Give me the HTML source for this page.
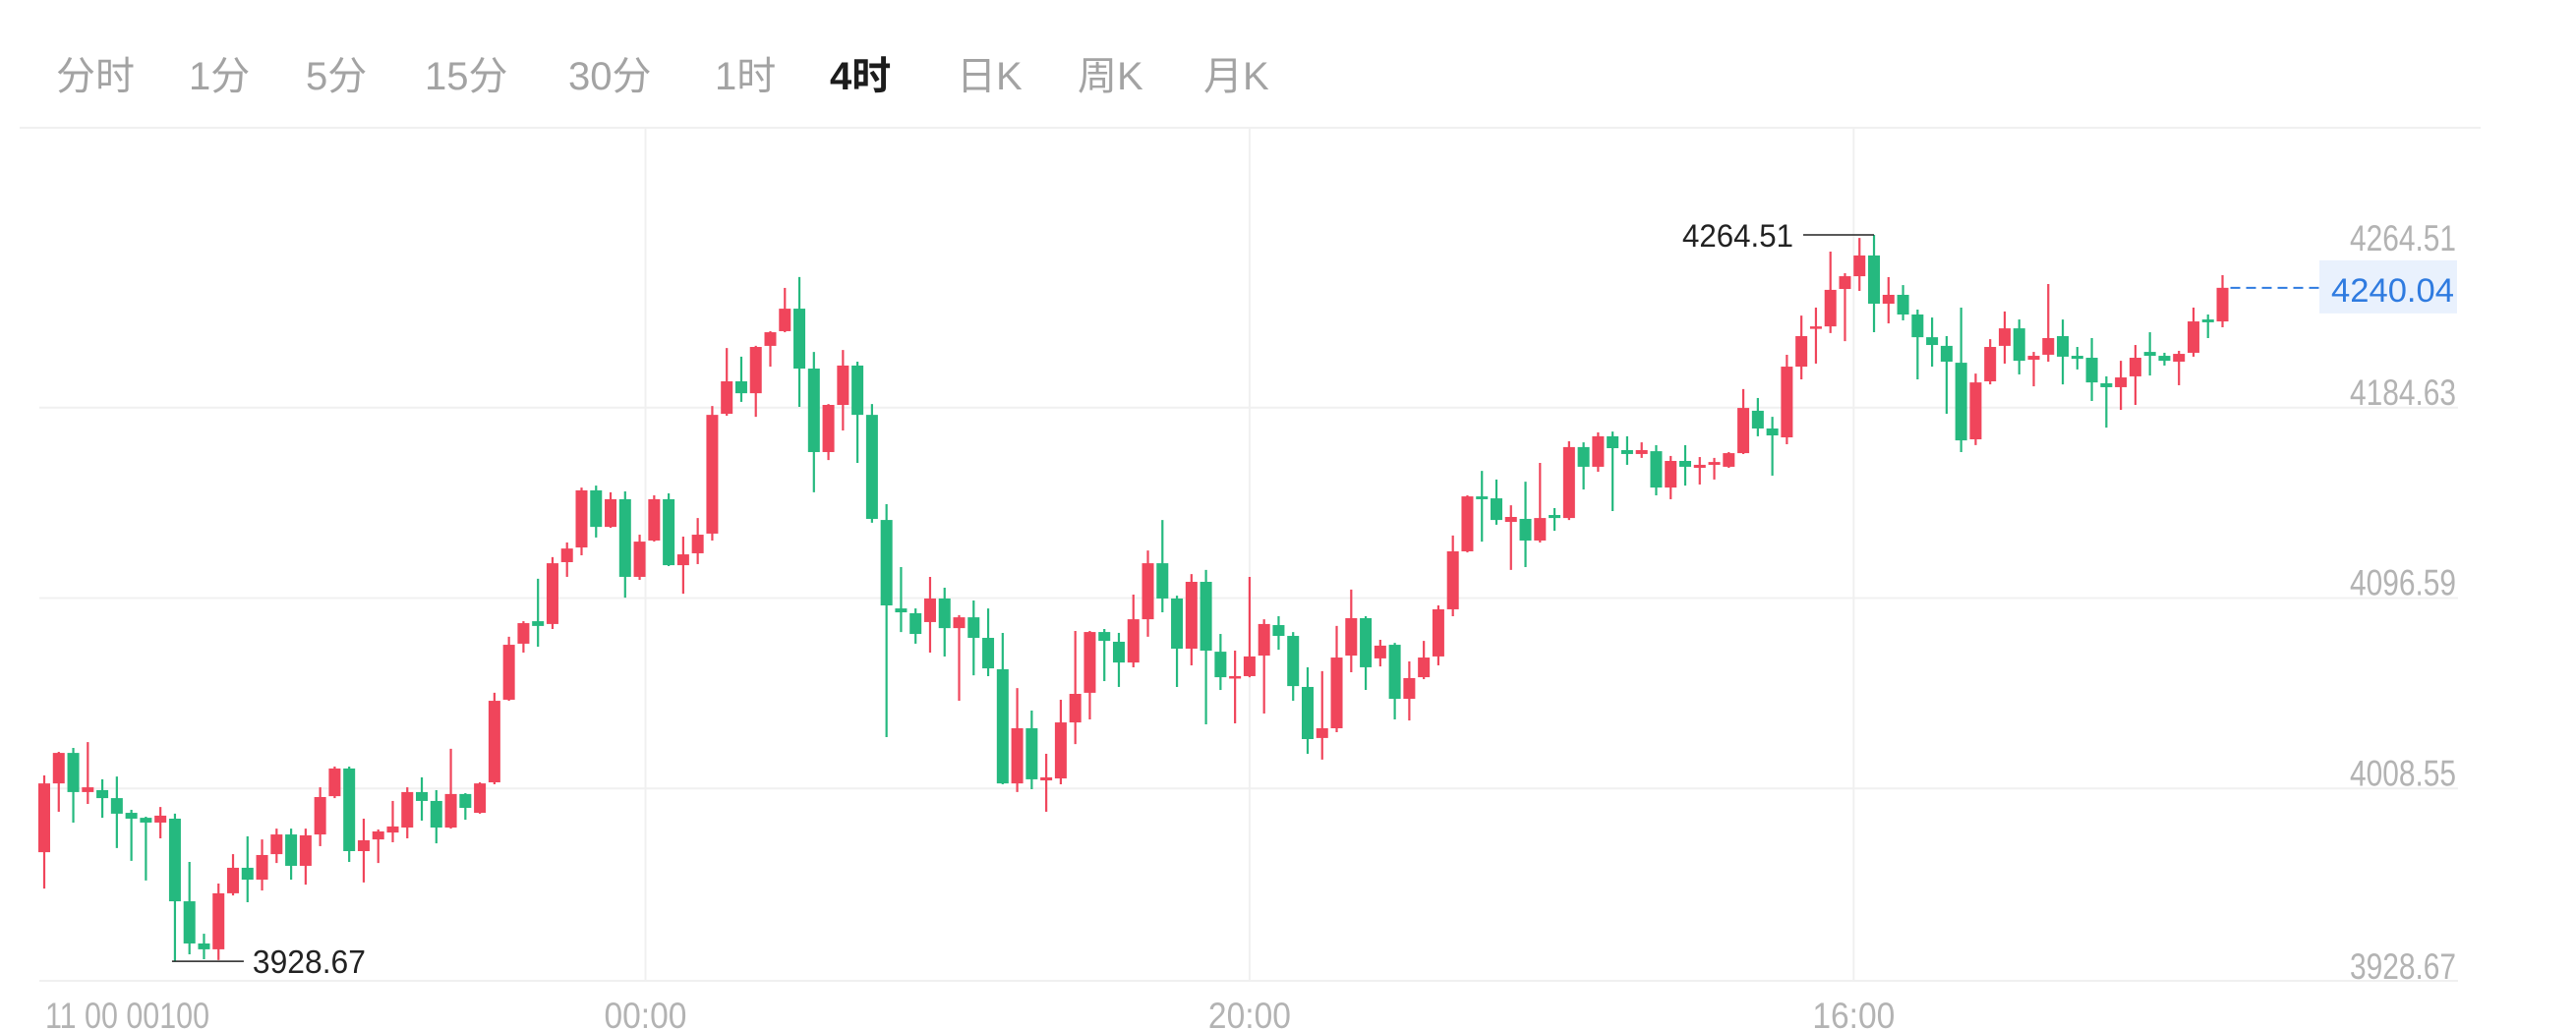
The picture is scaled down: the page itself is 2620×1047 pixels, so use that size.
<!DOCTYPE html>
<html><head><meta charset="utf-8"><style>
html,body{margin:0;padding:0;background:#fff;}
svg{display:block;}
text{font-family:"Liberation Sans","Noto Sans CJK SC",sans-serif;}
</style></head><body>
<svg id="chart" width="2620" height="1047" viewBox="0 0 2620 1047" xmlns="http://www.w3.org/2000/svg">
<g font-size="40" fill="#a3a3a3">
<text x="57" y="91">分时</text>
<text x="192" y="91">1分</text>
<text x="311" y="91">5分</text>
<text x="432" y="91">15分</text>
<text x="578" y="91">30分</text>
<text x="727" y="91">1时</text>
<text x="844" y="91" fill="#1c1c1c" font-weight="bold">4时</text>
<text x="973" y="91">日K</text>
<text x="1096" y="91">周K</text>
<text x="1224" y="91">月K</text>
</g>
<line x1="20" y1="130" x2="2523" y2="130" stroke="#f0f0f0" stroke-width="2"/>
<g id="grid"></g>
<g id="candles"></g>
<g id="labels"></g>
</svg>
<script>
const opens=[3979.1,4010.9,4025.0,4006.9,4007.8,4004.1,3997.3,3995.0,3992.8,3994.6,3956.4,3936.9,3934.2,3960.1,3971.9,3966.4,3978.2,3987.3,3972.8,3987.3,4005.0,4017.8,3979.6,3985.0,3988.2,3990.5,4006.9,4002.8,3990.5,4006.0,3997.3,4011.4,4049.6,4075.5,4085.9,4084.6,4113.2,4120.0,4146.4,4129.5,4142.3,4106.4,4123.2,4142.3,4111.8,4117.3,4126.4,4181.8,4196.8,4191.3,4213.2,4220.0,4230.4,4202.7,4164.1,4185.9,4204.1,4181.3,4132.7,4091.8,4089.6,4085.5,4096.4,4082.7,4087.7,4078.2,4063.7,4010.9,4036.4,4012.3,4013.2,4039.1,4052.8,4080.9,4076.4,4066.8,4086.8,4112.7,4096.4,4073.2,4104.1,4071.8,4059.6,4060.5,4070.0,4084.1,4079.1,4055.5,4031.9,4036.4,4070.0,4087.3,4068.7,4075.0,4050.0,4060.0,4069.6,4091.4,4118.2,4143.6,4142.7,4131.8,4133.2,4123.2,4135.0,4133.6,4166.4,4157.3,4171.4,4165.0,4163.2,4164.5,4147.7,4160.0,4156.8,4158.2,4157.3,4163.6,4183.2,4175.0,4170.9,4203.6,4221.3,4222.2,4239.5,4245.4,4255.0,4232.7,4236.8,4227.7,4217.2,4213.2,4205.4,4170.0,4196.8,4213.2,4221.3,4206.8,4209.1,4217.7,4208.6,4207.7,4195.9,4194.1,4199.1,4210.4,4208.6,4205.9,4210.0,4225.4,4224.5];
const highs=[4014.6,4025.5,4027.3,4030.0,4012.8,4014.1,3998.7,3995.5,4000.0,3996.9,3974.6,3941.4,3964.6,3978.2,3986.4,3985.0,3990.0,3990.0,3990.0,4009.1,4018.7,4018.7,3994.6,3989.6,4002.8,4009.1,4013.7,4007.8,4026.9,4006.4,4011.4,4052.8,4078.7,4085.9,4105.5,4115.5,4122.3,4147.7,4148.6,4145.5,4145.9,4125.9,4144.1,4145.0,4125.0,4133.6,4185.4,4212.2,4208.2,4213.2,4220.0,4240.0,4245.0,4210.4,4186.3,4211.3,4205.9,4186.3,4140.0,4110.9,4091.8,4106.4,4101.4,4088.7,4095.5,4091.8,4080.5,4055.0,4044.6,4024.6,4049.6,4081.4,4081.4,4082.3,4080.5,4098.2,4118.6,4132.7,4097.7,4107.7,4109.6,4080.0,4072.3,4106.4,4086.8,4088.2,4080.9,4064.6,4062.8,4083.7,4100.5,4088.2,4077.3,4075.9,4067.3,4076.8,4093.2,4125.5,4144.1,4155.4,4151.4,4139.5,4150.4,4159.1,4138.2,4169.1,4168.6,4173.2,4173.6,4171.4,4168.6,4167.3,4162.3,4167.3,4161.8,4161.4,4164.1,4193.2,4189.1,4180.4,4209.1,4227.2,4230.9,4256.8,4246.8,4263.1,4264.51,4245.0,4241.3,4230.0,4226.3,4217.7,4230.9,4200.4,4216.3,4229.1,4225.4,4210.4,4241.8,4225.4,4212.7,4216.8,4199.1,4206.3,4213.6,4219.5,4210.0,4210.9,4230.9,4227.7,4245.9];
const lows=[3962.3,3997.8,3992.8,4001.4,3995.0,3981.0,3975.1,3966.0,3985.5,3928.67,3931.9,3929.6,3929.2,3959.1,3956.0,3961.4,3974.1,3966.4,3964.1,3981.9,4004.1,3974.6,3965.1,3974.1,3983.7,3985.5,3993.7,3983.2,3990.0,3994.1,3996.9,4010.5,4049.1,4071.4,4074.1,4082.3,4106.4,4116.4,4124.6,4129.1,4096.8,4105.0,4122.7,4111.4,4098.6,4112.3,4123.2,4180.9,4187.3,4180.4,4203.6,4219.5,4185.0,4145.5,4160.4,4174.1,4159.1,4131.4,4032.3,4080.9,4075.5,4071.4,4069.6,4049.1,4060.9,4060.5,4010.5,4006.9,4008.2,3997.8,4010.5,4029.1,4040.5,4058.2,4055.5,4064.6,4078.7,4090.0,4055.5,4065.5,4038.2,4054.1,4038.7,4060.0,4043.2,4072.7,4049.1,4024.6,4021.9,4034.6,4062.3,4054.1,4065.0,4040.5,4040.0,4059.1,4065.5,4088.2,4117.7,4122.7,4130.5,4109.6,4110.9,4122.3,4127.7,4132.7,4146.8,4155.0,4136.8,4158.2,4161.4,4144.1,4142.3,4148.6,4149.1,4151.4,4156.8,4163.2,4171.4,4153.2,4167.7,4197.7,4205.0,4219.1,4215.4,4238.6,4219.5,4223.6,4225.0,4197.7,4203.6,4181.8,4164.1,4167.3,4195.4,4205.0,4200.0,4194.5,4205.9,4195.4,4202.3,4187.7,4175.4,4183.6,4185.9,4199.5,4204.1,4195.0,4208.2,4216.8,4221.8];
const closes=[4010.9,4025.0,4006.9,4009.1,4004.1,3996.9,3994.6,3992.8,3996.0,3956.4,3936.9,3934.2,3960.1,3971.9,3966.4,3977.8,3987.3,3972.8,3986.9,4004.6,4017.8,3979.6,3984.6,3988.7,3991.0,4006.9,4002.8,3990.5,4006.0,3999.6,4010.9,4049.1,4075.0,4085.0,4083.7,4112.7,4119.5,4146.4,4129.5,4142.3,4106.4,4122.7,4142.3,4111.8,4116.8,4125.9,4181.3,4196.8,4191.3,4212.7,4219.5,4230.4,4202.7,4164.1,4185.9,4204.1,4181.3,4133.2,4093.2,4090.0,4080.0,4096.4,4082.7,4087.7,4078.2,4064.1,4010.9,4036.4,4012.8,4013.7,4039.1,4052.3,4080.9,4076.8,4066.8,4086.8,4112.7,4096.4,4073.2,4104.1,4072.3,4060.0,4060.5,4069.6,4084.6,4079.1,4055.9,4031.4,4036.4,4069.1,4087.3,4064.6,4074.6,4050.0,4059.6,4069.1,4091.4,4118.2,4143.6,4142.3,4132.7,4134.1,4123.2,4133.6,4133.6,4166.4,4157.3,4171.4,4165.9,4163.2,4165.0,4147.7,4160.0,4157.3,4158.2,4159.5,4163.6,4184.5,4175.0,4171.8,4203.6,4217.7,4222.2,4239.1,4245.4,4255.0,4232.7,4236.8,4227.7,4217.2,4213.6,4205.9,4169.5,4196.3,4212.7,4221.3,4206.3,4208.6,4216.8,4208.2,4207.2,4196.3,4194.1,4198.6,4207.7,4208.6,4206.3,4209.5,4224.5,4224.1,4240.04];
const gridPrices=[4184.63,4096.59,4008.55];
const priceLabels=["4264.51","4184.63","4096.59","4008.55","3928.67"];
const timeLabels=["11 00 00100","00:00","20:00","16:00"];
const timeIndex=[null,41.4,83,124.6];

const NS="http://www.w3.org/2000/svg";
const TOP=4264.51, PXU=2.2007;
function yS(p){return 239+(TOP-p)*PXU;}
function xS(i){return 45+i*14.77;}
function mk(tag,attrs,parent){const e=document.createElementNS(NS,tag);for(const k in attrs)e.setAttribute(k,attrs[k]);parent.appendChild(e);return e;}
const grid=document.getElementById('grid'),cg=document.getElementById('candles'),lg=document.getElementById('labels');
// horizontal gridlines
gridPrices.forEach(p=>{const l=mk('line',{x1:40,x2:2500,y1:yS(p),y2:yS(p),stroke:'#f0f0f0','stroke-width':2},grid);

});
const bl=mk('line',{x1:40,x2:2500,y1:998,y2:998,stroke:'#f0f0f0','stroke-width':2},grid);


timeIndex.forEach(t=>{if(t===null)return;const x=xS(t);const l=mk('line',{x1:x,x2:x,y1:131,y2:998,stroke:'#f0f0f0','stroke-width':2},grid);

});
// candles
for(let i=0;i<closes.length;i++){
 const o=opens[i],c=closes[i],h=highs[i],lo=lows[i];
 const up=c>=o, col=up?'#f0455b':'#25b97f';
 const x=xS(i);
 const g=mk('g',{},cg);
 
 
 mk('line',{x1:x,x2:x,y1:yS(h),y2:yS(lo),stroke:col,'stroke-width':2.2},g);
 const top=yS(Math.max(o,c)),bot=yS(Math.min(o,c));
 mk('rect',{x:x-6,y:top,width:12,height:Math.max(bot-top,2.5),fill:col},g);
}
// price axis labels
priceLabels.forEach((s,k)=>{let y;
 if(k===0)y=255;else if(k===priceLabels.length-1)y=996;else y=yS(gridPrices[k-1])-3;
 const t=mk('text',{x:2498,y:y,'text-anchor':'end','font-size':37,fill:'#b3b3b3',textLength:108,lengthAdjust:'spacingAndGlyphs'},lg);
 t.textContent=s;
 
 });
// time labels
timeLabels.forEach((s,k)=>{const t=mk('text',{'font-size':37,fill:'#b3b3b3',y:1046},lg);
 if(k===0){t.setAttribute('x',46);t.setAttribute('textLength',167);t.setAttribute('lengthAdjust','spacingAndGlyphs');}
 else{t.setAttribute('x',xS(timeIndex[k]));t.setAttribute('text-anchor','middle');t.setAttribute('textLength',84);t.setAttribute('lengthAdjust','spacingAndGlyphs');}
 t.textContent=s;
 
 });
// max / min markers
let hi=0,lw=0;for(let i=0;i<highs.length;i++){if(highs[i]>highs[hi])hi=i;if(lows[i]<lows[lw])lw=i;}
const mxY=yS(highs[hi]),mxX=xS(hi);
const ml=mk('line',{x1:mxX-72,x2:mxX,y1:mxY,y2:mxY,stroke:'#222','stroke-width':1.5},lg);


const mt=mk('text',{x:mxX-82,y:mxY+12,'text-anchor':'end','font-size':32,fill:'#222',textLength:113,lengthAdjust:'spacingAndGlyphs'},lg);
mt.textContent=highs[hi].toFixed(2);


const nY=yS(lows[lw]),nX=xS(lw);
const nl=mk('line',{x1:nX-3,x2:nX+70,y1:nY,y2:nY,stroke:'#222','stroke-width':1.5},lg);


const nt=mk('text',{x:nX+79,y:nY+12,'font-size':33,fill:'#222',textLength:115,lengthAdjust:'spacingAndGlyphs'},lg);
nt.textContent=lows[lw].toFixed(2);


// last price
const last=closes[closes.length-1],lY=yS(last),lX=xS(closes.length-1);
const dl=mk('line',{x1:lX+8,x2:2359,y1:lY,y2:lY,stroke:'#2f7be0','stroke-width':2,'stroke-dasharray':'10 6'},lg);


const br=mk('rect',{x:2359,y:lY-28,width:140,height:54,fill:'#e9f1fd'},lg);


const bt=mk('text',{x:2496,y:lY+14,'text-anchor':'end','font-size':34,fill:'#2f7be0',textLength:125,lengthAdjust:'spacingAndGlyphs'},lg);
bt.textContent=last.toFixed(2);


</script>
</body></html>
